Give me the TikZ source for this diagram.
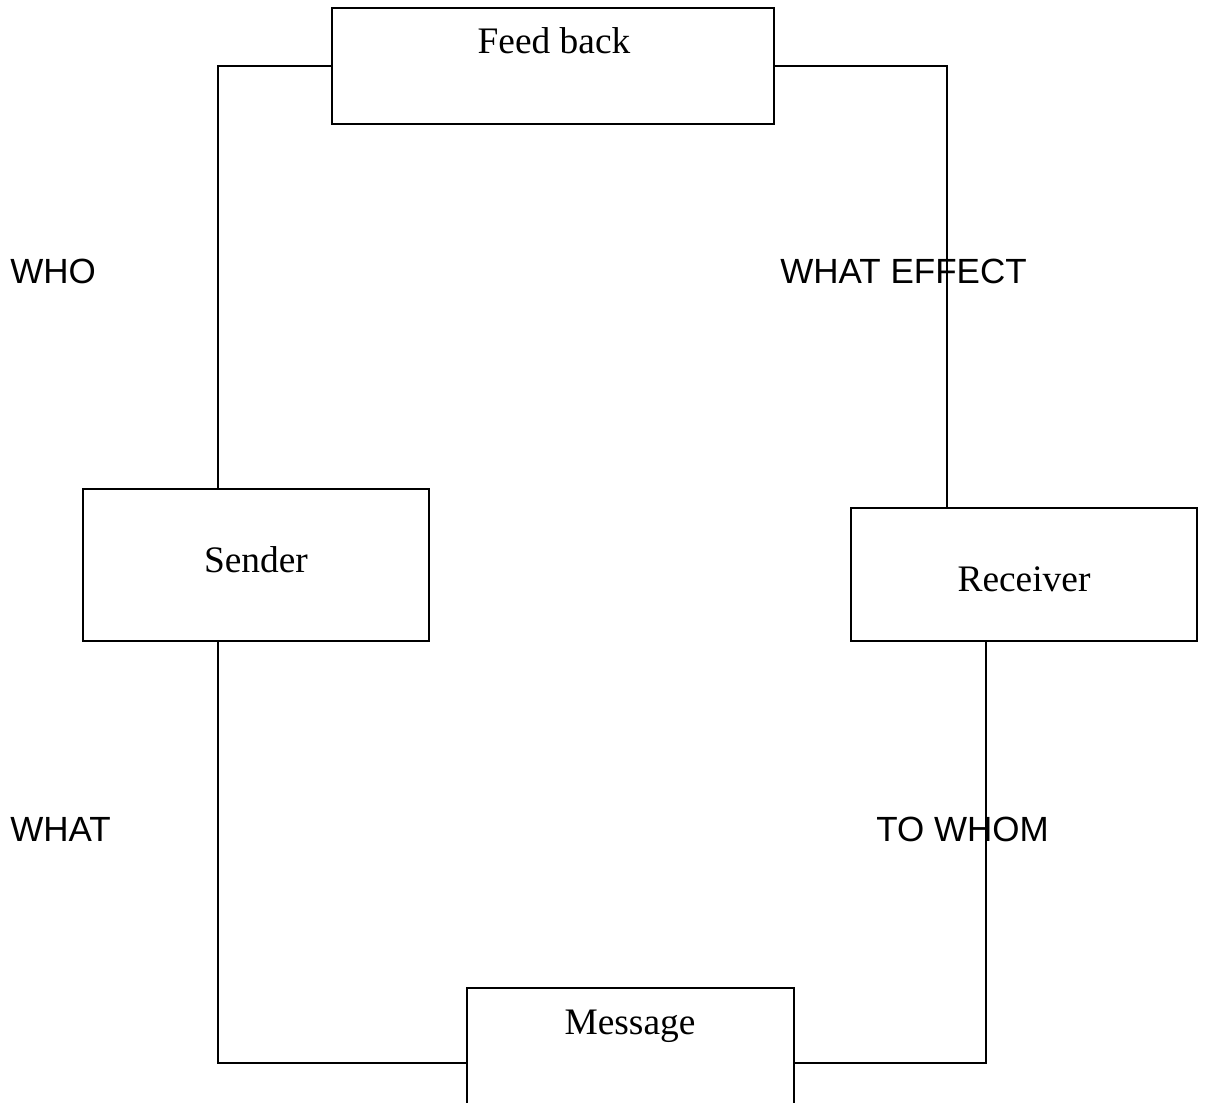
\documentclass[tikz,border=0pt]{standalone}
\usepackage{fontspec}
\setmainfont{Liberation Serif}
\setsansfont{Liberation Sans}
\begin{document}
\begin{tikzpicture}[x=0.5pt,y=-0.5pt,
  box/.style={draw,line width=1pt,inner sep=0pt},
  btext/.style={font=\fontsize{18.7pt}{22pt}\selectfont,anchor=base},
  lbl/.style={font=\sffamily\fontsize{17.5pt}{20pt}\selectfont,anchor=base west,inner sep=0pt},
  conn/.style={line width=1pt}]
\useasboundingbox (0,0) rectangle (1205,1103);
% boxes
\node[box,minimum width=221pt,minimum height=58pt] (fb) at (553,66) {};
\node[box,minimum width=173pt,minimum height=76pt] (snd) at (256,565) {};
\node[box,minimum width=173pt,minimum height=66.5pt] (rcv) at (1024,574.5) {};
\node[box,minimum width=163.5pt,minimum height=75pt] (msg) at (630.5,1063) {};
% box texts
\node[btext] (tfb) at (554,54) {Feed back};
\node[btext] (tsnd) at (256,572) {Sender};
\node[btext] (trcv) at (1024,591) {Receiver};
\node[btext] (tmsg) at (630,1034) {Message};
% connectors
\draw[conn] (fb.west) -| ([xshift=-19pt]snd.north);
\draw[conn] (fb.east) -| ([xshift=-38.5pt]rcv.north);
\draw[conn] ([xshift=-19pt]snd.south) |- (msg.west);
\draw[conn] ([xshift=-19pt]rcv.south) |- (msg.east);
% labels
\node[lbl] (who) at (10,283) {WHO};
\node[lbl] (eff) at (780,283) {WHAT EFFECT};
\node[lbl] (what) at (10,841) {WHAT};
\node[lbl] (whom) at (876,841) {TO WHOM};
\end{tikzpicture}
\end{document}
